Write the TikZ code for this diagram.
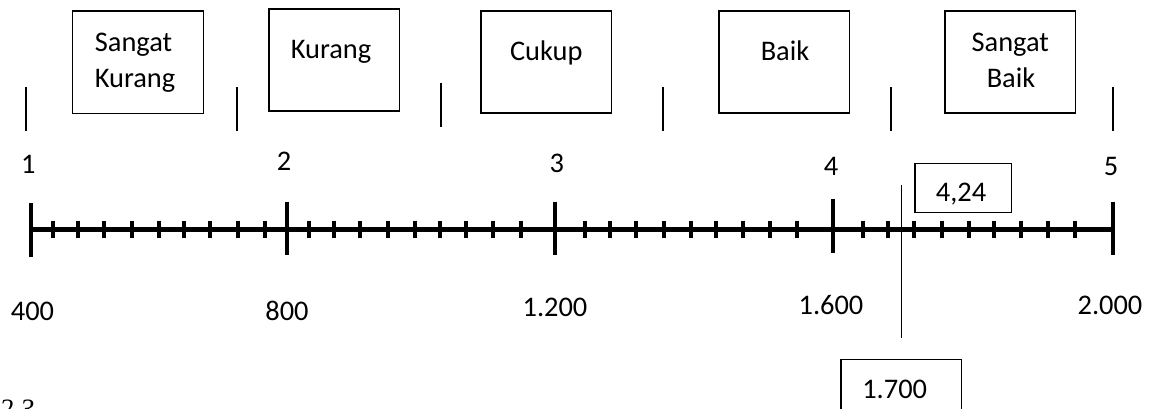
\documentclass[tikz,border=0pt]{standalone}
\usepackage{fontspec}
\setmainfont{Carlito}
\newfontfamily\serifit{Liberation Serif}
\begin{document}
\begin{tikzpicture}[x=0.5pt,y=-0.5pt,
  lbl/.style={inner sep=0pt,anchor=base,font=\fontsize{14.2}{18.3}\selectfont},
  catbox/.style={draw,line width=0.6pt},
  axisline/.style={line width=2.15pt},
  majortick/.style={line width=1.8pt},
  minortick/.style={line width=2pt},
  markline/.style={line width=1pt},
  thinline/.style={line width=0.5pt}]
\useasboundingbox (0,0) rectangle (1163,408);
% category boxes
\draw[catbox] (72.7,11) rectangle (203.3,113.3);
\draw[catbox] (269,9) rectangle (399.5,111);
\draw[catbox] (481,11) rectangle (611.3,113);
\draw[catbox] (719,11) rectangle (849.3,113);
\draw[catbox] (945,11) rectangle (1075.3,113);
\node[lbl] (sk1) at (133.5,51) {Sangat};
\node[lbl] (sk2) at (135,87.7) {Kurang};
\node[lbl] (ku) at (331,58.3) {Kurang};
\node[lbl] (cu) at (546.3,60) {Cukup};
\node[lbl] (ba) at (785,60) {Baik};
\node[lbl] (sb1) at (1010.3,51) {Sangat};
\node[lbl] (sb2) at (1011,87.7) {Baik};
% upper marks
\foreach \x/\a/\b in {26/87.3/130.7, 237.3/87.3/130.7, 441/83.3/126.7, 663.3/87.3/130.7, 891/87.3/130.7, 1113.3/87.3/130.7}
  \draw[markline] (\x,\a) -- (\x,\b);
% scale numbers
\node[lbl] (n1) at (28.3,173.3) {1};
\node[lbl] (n2) at (284,170) {2};
\node[lbl] (n3) at (556.7,172) {3};
\node[lbl] (n4) at (831,175) {4};
\node[lbl] (n5) at (1111,175) {5};
% axis
\coordinate (a0) at (31,229.5);
\coordinate (a1) at (1113,229.5);
\draw[axisline] (a0) -- (a1);
\foreach \x/\a/\b in {31/203/257, 287/201.7/255, 555/201.7/255, 833/199.3/252.7, 1113/201.7/255}
  \draw[majortick] (\x,\a) -- (\x,\b);
\foreach \x in {52.7,77.7,104.3,131.7,159,184,210,237.7,265,
                309,334,360.3,387.7,415,440,466,493.3,520.7,
                585,610,636.3,663.7,691,716.3,742.7,770,797.3,
                863.3,888.3,914.3,941.7,969,994.3,1020.7,1047.7,1075}
  \draw[minortick] (\x,220.7) -- (\x,238.3);
% bottom values
\node[lbl] (v1) at (32.5,320) {400};
\node[lbl] (v2) at (287,320) {800};
\node[lbl] (v3) at (555,316) {1.200};
\node[lbl] (v4) at (831,314) {1.600};
\node[lbl] (v5) at (1110,314) {2.000};
% score marker
\coordinate (mt) at (901.5,185);
\coordinate (mb) at (901.5,338);
\draw[thinline] (mt) -- (mb);
\draw[catbox] (915,163.3) rectangle (1011.7,212.7);
\node[lbl] (sc) at (961,201.7) {4,24};
\draw[catbox] (841,359.3) rectangle (961.7,440);
\node[lbl] (tot) at (894.7,398) {1.700};
% cut-off caption
\node[inner sep=0pt,anchor=base west,font=\serifit\itshape\fontsize{14}{16}\selectfont] (cap) at (-1,418) {2.3};
\end{tikzpicture}
\end{document}
